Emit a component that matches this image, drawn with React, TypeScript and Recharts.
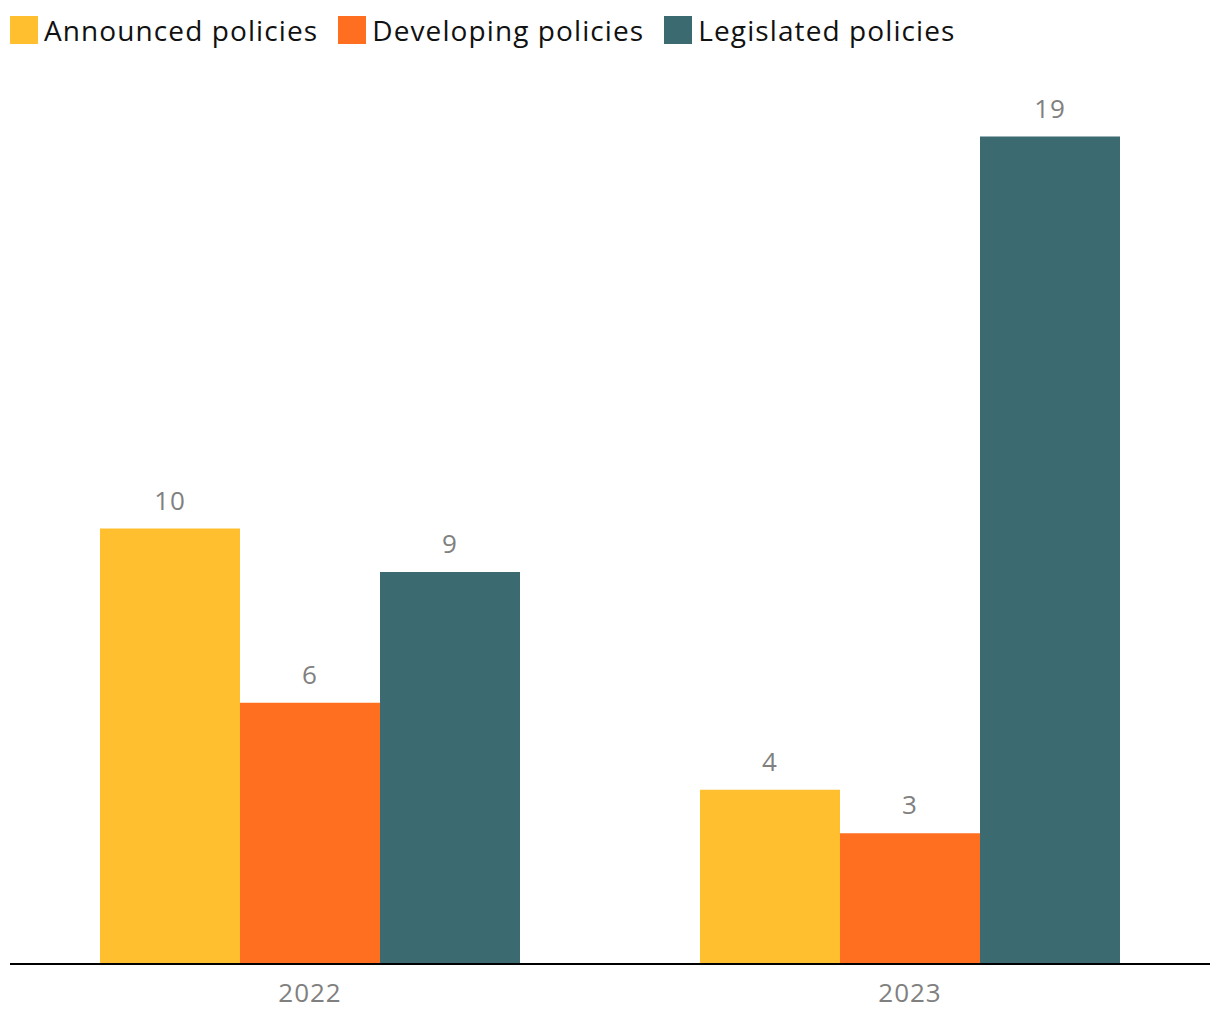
import { BarChart, Bar, XAxis, YAxis, Legend, LabelList } from "recharts";

const years = ["2022", "2023"];
const announced = [10, 4];
const developing = [6, 3];
const legislated = [9, 19];

const data = years.map((year, i) => ({
  year,
  announced: announced[i],
  developing: developing[i],
  legislated: legislated[i],
}));

const series = [
  { key: "announced", name: "Announced policies", color: "#FFBF2E" },
  { key: "developing", name: "Developing policies", color: "#FF6F1F" },
  { key: "legislated", name: "Legislated policies", color: "#3B6A70" },
];

const font = "'Open Sans', 'DejaVu Sans', sans-serif";

function LegendBox() {
  return (
    <div style={{ display: "flex", height: 40, alignItems: "center", fontFamily: font }}>
      {series.map((s) => (
        <div key={s.key} style={{ display: "flex", alignItems: "center", marginRight: 20 }}>
          <span style={{ width: 28, height: 28, background: s.color, display: "inline-block", marginRight: 6 }} />
          <span style={{ fontSize: 28, letterSpacing: 1.1, color: "#111" }}>{s.name}</span>
        </div>
      ))}
    </div>
  );
}

export default function App() {
  return (
    <div style={{ position: "absolute", left: 0, top: 0 }}>
      <BarChart
        width={1220}
        height={1020}
        data={data}
        margin={{ top: 53, right: 10, bottom: 0, left: 10 }}
        barCategoryGap="15%"
        barGap={0}
      >
        <Legend
          verticalAlign="top"
          align="left"
          content={<LegendBox />}
          wrapperStyle={{ top: 10, left: 10 }}
        />
        <XAxis
          dataKey="year"
          height={56}
          axisLine={{ stroke: "#000", strokeWidth: 2 }}
          tickLine={false}
          tick={{ fill: "#808080", fontSize: 26, fontFamily: font, letterSpacing: 1 }}
          tickMargin={14}
        />
        <YAxis hide domain={[0, 20]} />
        {series.map((s) => (
          <Bar key={s.key} dataKey={s.key} name={s.name} fill={s.color} isAnimationActive={false}>
            <LabelList
              dataKey={s.key}
              position="top"
              offset={19}
              style={{ fill: "#808080", fontSize: 26, fontFamily: font, letterSpacing: 1 }}
            />
          </Bar>
        ))}
      </BarChart>
    </div>
  );
}
